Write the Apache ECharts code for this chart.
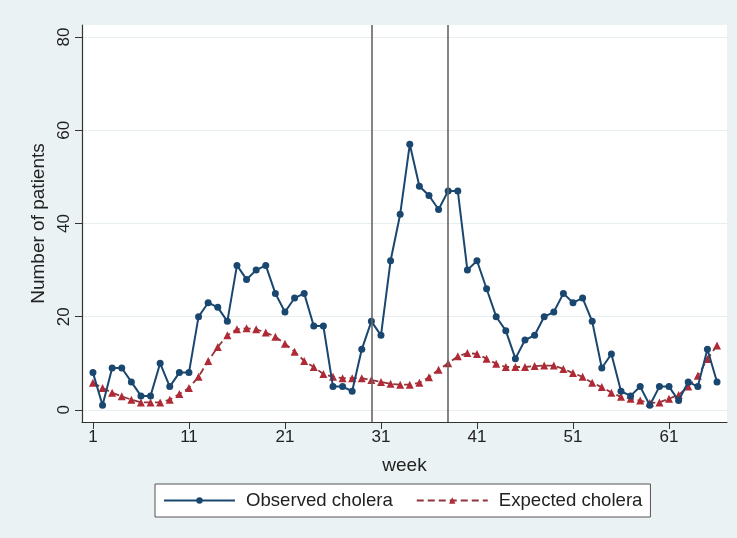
<!DOCTYPE html>
<html>
<head>
    <meta http-equiv="content-type" content="text/html;charset=utf-8" />
    <title>Cholera</title>
    <script src="https://cdn.jsdelivr.net/npm/echarts@6/dist/echarts.min.js"></script>
    <style type="text/css">
        * { margin: 0; padding: 0 }
        html, body { background: #eaf2f3; }
        #chart { width: 737px; height: 538px; }
    </style>
</head>
<body>
<div id="chart"></div>
<script>
    var weeks = [1, 2, 3, 4, 5, 6, 7, 8, 9, 10, 11, 12, 13, 14, 15, 16, 17, 18, 19, 20, 21, 22,
        23, 24, 25, 26, 27, 28, 29, 30, 31, 32, 33, 34, 35, 36, 37, 38, 39, 40, 41, 42, 43, 44,
        45, 46, 47, 48, 49, 50, 51, 52, 53, 54, 55, 56, 57, 58, 59, 60, 61, 62, 63, 64, 65, 66];
    var observed = [8, 1, 9, 9, 6, 3, 3, 10, 5, 8, 8, 20, 23, 22, 19, 31, 28, 30, 31, 25, 21, 24,
        25, 18, 18, 5, 5, 4, 13, 19, 16, 32, 42, 57, 48, 46, 43, 47, 47, 30, 32, 26, 20, 17,
        11, 15, 16, 20, 21, 25, 23, 24, 19, 9, 12, 4, 3, 5, 1, 5, 5, 2, 6, 5, 13, 6];
    var expected = [5.8, 4.7, 3.7, 2.9, 2.2, 1.6, 1.6, 1.6, 2.2, 3.4, 4.7, 7.1, 10.5, 13.5, 16, 17.3,
        17.5, 17.3, 16.6, 15.7, 14.2, 12.5, 10.5, 9.2, 7.7, 7.1, 6.8, 6.8, 6.8, 6.4, 6.0, 5.6,
        5.4, 5.4, 5.8, 7.0, 8.6, 10, 11.5, 12.2, 12, 11, 9.9, 9.2, 9.2, 9.2, 9.4, 9.5, 9.5, 8.8,
        7.9, 7.1, 5.8, 4.9, 3.7, 2.8, 2.4, 2.0, 1.5, 1.6, 2.4, 3.2, 5, 7.3, 10.9, 13.8];
    var xTicks = [1, 11, 21, 31, 41, 51, 61];
    var yTicks = [0, 20, 40, 60, 80];
    var periodLines = [30, 38];

    function pairs(vals) {
        var out = [];
        for (var i = 0; i < vals.length; i++) {
            out.push([weeks[i], vals[i]]);
        }
        return out;
    }

    var chart = echarts.init(document.getElementById('chart'));
    var font = 'Liberation Sans, Arial, sans-serif';
    var option = {
        backgroundColor: '#eaf2f3',
        textStyle: { fontFamily: font },
        grid: {
            left: 82, right: 10, top: 25, bottom: 116,
            show: true, backgroundColor: '#ffffff', borderWidth: 0
        },
        xAxis: {
            type: 'value',
            min: -0.14, max: 67.04,
            name: 'week',
            nameLocation: 'middle',
            nameGap: 34,
            nameTextStyle: { color: '#222', fontSize: 19 },
            axisLine: { show: true, onZero: false, lineStyle: { color: '#333', width: 1.2 } },
            axisTick: { show: true, length: 7, customValues: xTicks, lineStyle: { color: '#333' } },
            axisLabel: { customValues: xTicks, color: '#222', fontSize: 17, margin: 7 },
            splitLine: { show: false }
        },
        yAxis: {
            type: 'value',
            min: -2.6, max: 82.6,
            name: 'Number of patients',
            nameLocation: 'middle',
            nameGap: 27,
            nameTextStyle: { color: '#222', fontSize: 19 },
            axisLine: { show: true, onZero: false, lineStyle: { color: '#333', width: 1.2 } },
            axisTick: { show: true, length: 7, customValues: yTicks, lineStyle: { color: '#333' } },
            axisLabel: { customValues: yTicks, rotate: 90, color: '#222', fontSize: 17, margin: 9 },
            splitLine: { show: true, lineStyle: { color: '#e6eef0', width: 1.2 } }
        },
        legend: {
            bottom: 21,
            left: 155,
            backgroundColor: '#ffffff',
            borderColor: '#555',
            borderWidth: 1,
            borderRadius: 0,
            padding: [7, 8, 7, 8],
            itemGap: 23,
            itemWidth: 71,
            itemHeight: 8,
            textStyle: { color: '#222', fontSize: 18.6, padding: [0, 0, 0, 6] },
            data: ['Observed cholera', 'Expected cholera']
        },
        series: [
            {
                name: 'Observed cholera',
                type: 'line',
                data: pairs(observed),
                symbol: 'circle',
                symbolSize: 7,
                color: '#1a476f',
                lineStyle: { color: '#1a476f', width: 2 },
                itemStyle: { color: '#1a476f' },
                z: 3,
                markLine: {
                    silent: true,
                    symbol: 'none',
                    label: { show: false },
                    lineStyle: { color: '#666', width: 1.6, type: 'solid' },
                    data: periodLines.map(function (w) { return { xAxis: w }; })
                }
            },
            {
                name: 'Expected cholera',
                type: 'line',
                data: pairs(expected),
                symbol: 'triangle',
                symbolSize: 8,
                color: '#90353b',
                lineStyle: { color: '#90353b', width: 1.8, type: [7, 4] },
                itemStyle: { color: '#b02a35' },
                z: 2
            }
        ]
    };
    chart.setOption(option);
</script>
</body>
</html>
